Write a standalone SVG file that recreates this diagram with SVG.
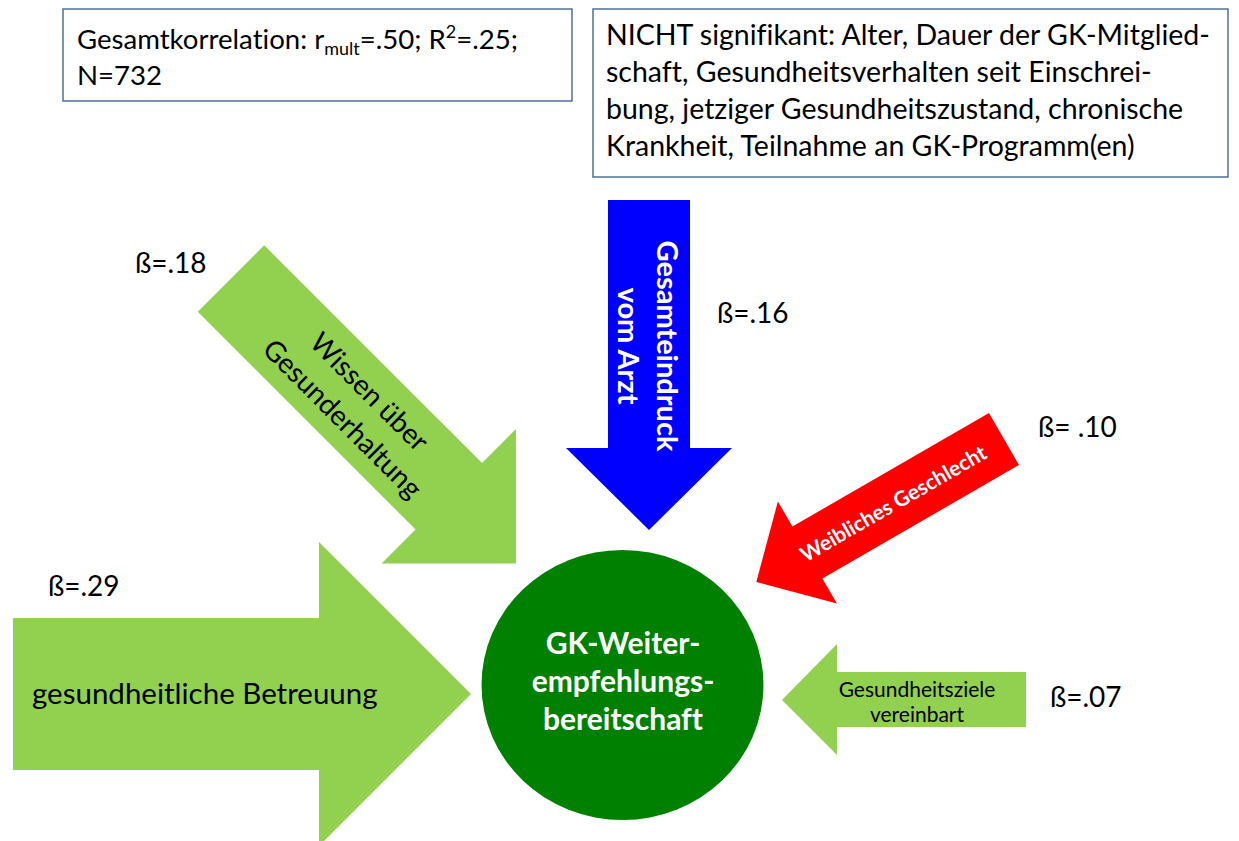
<svg xmlns="http://www.w3.org/2000/svg" width="1239" height="841" viewBox="0 0 1239 841">
<style>
text{font-family:Lato,"Liberation Sans",sans-serif;fill:#000;font-variant-ligatures:none}
.box{fill:#fff;stroke:#50709a;stroke-width:1.5}
.lg{fill:#92d050}
.t28{font-size:28px}
text.wb,.wb text{fill:#fff;font-weight:bold}
</style>
<rect width="1239" height="841" fill="#fff"/>
<g id="info-box">
<rect class="box" x="63" y="9" width="509" height="92"/>
<text font-size="27.6" x="77" y="49">Gesamtkorrelation: r<tspan font-size="18" dy="6">mult</tspan><tspan dy="-6">=.50; R</tspan><tspan font-size="18" dy="-11">2</tspan><tspan dy="11">=.25;</tspan></text>
<text font-size="27.6" x="77" y="85">N=732</text>
</g>
<g id="nonsig-box">
<rect class="box" x="593" y="9" width="635" height="168"/>
<g font-size="28.5">
<text x="606" y="45">NICHT signifikant: Alter, Dauer der GK-Mitglied-</text>
<text x="606" y="82">schaft, Gesundheitsverhalten seit Einschrei-</text>
<text x="606" y="119">bung, jetziger Gesundheitszustand, chronische</text>
<text x="606" y="156">Krankheit, Teilnahme an GK-Programm(en)</text>
</g>
</g>
<g id="target">
<ellipse cx="622.5" cy="685" rx="141" ry="135" fill="#008000"/>
<g class="wb" font-size="30" text-anchor="middle">
<text x="623" y="654">GK-Weiter-</text>
<text x="623" y="692">empfehlungs-</text>
<text x="623" y="730">bereitschaft</text>
</g>
</g>
<g id="connectors">
<g id="arrow-betreuung">
<polygon class="lg" points="13,618 319,618 319,542 471,694 319,846 319,770 13,770"/>
<text font-size="29.5" x="32" y="704">gesundheitliche Betreuung</text>
</g>
<g id="arrow-wissen" transform="translate(231,278.5) rotate(45)">
<polygon class="lg" points="0,-47 308,-47 308,-95 403,0 308,95 308,47 0,47"/>
<text class="t28" text-anchor="middle" x="178" y="-8">Wissen über</text>
<text class="t28" text-anchor="middle" x="178" y="30">Gesunderhaltung</text>
</g>
<g id="arrow-arzt">
<polygon fill="#0000ff" points="608,200 690,200 690,448 732,448 649,530 566,448 608,448"/>
<text class="wb" font-size="29" text-anchor="middle" transform="translate(657,346) rotate(90)">Gesamteindruck</text>
<text class="wb" font-size="29" text-anchor="middle" transform="translate(618,346) rotate(90)">vom Arzt</text>
</g>
<g id="arrow-geschlecht">
<polygon fill="#ff0000" transform="translate(1004,439) rotate(150)" points="0,-30 227,-30 227,-59 286,0 227,59 227,30 0,30"/>
<text class="wb" font-size="21" text-anchor="middle" transform="translate(897,510) rotate(-30)">Weibliches Geschlecht</text>
</g>
<g id="arrow-ziele">
<polygon class="lg" points="1026,672 837,672 837,644 782,700 837,755 837,727 1026,727"/>
<text font-size="21" text-anchor="middle" x="917" y="697">Gesundheitsziele</text>
<text font-size="21" text-anchor="middle" x="917" y="722">vereinbart</text>
</g>
</g>
<g id="labels" class="t28">
<text x="135" y="273">ß=.18</text>
<text x="717" y="323">ß=.16</text>
<text x="1038" y="437">ß= .10</text>
<text x="48" y="596">ß=.29</text>
<text x="1050" y="707">ß=.07</text>
</g>
</svg>
